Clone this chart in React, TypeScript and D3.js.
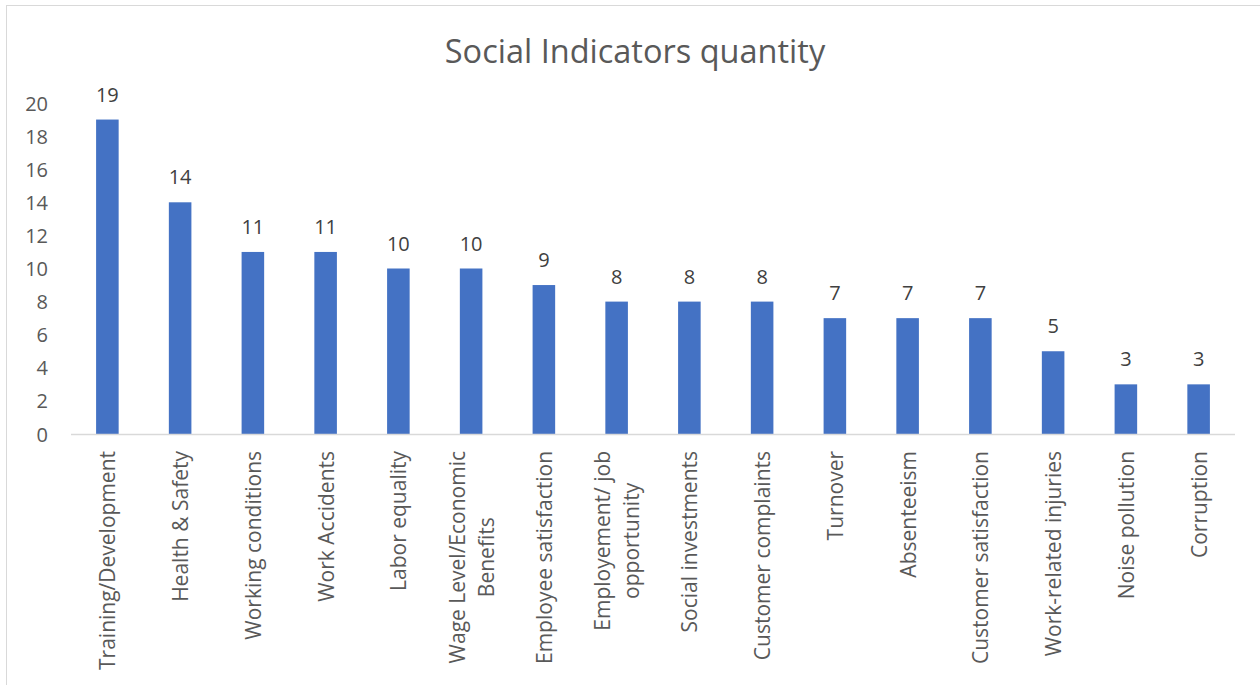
import React from "react";
import * as d3 from "d3";

const categories: string[][] = [
  ["Training/Development"],
  ["Health & Safety"],
  ["Working conditions"],
  ["Work Accidents"],
  ["Labor equality"],
  ["Wage Level/Economic", "Benefits"],
  ["Employee satisfaction"],
  ["Employement/ job", "opportunity"],
  ["Social investments"],
  ["Customer complaints"],
  ["Turnover"],
  ["Absenteeism"],
  ["Customer satisfaction"],
  ["Work-related injuries"],
  ["Noise pollution"],
  ["Corruption"],
];
const values: number[] = [19, 14, 11, 11, 10, 10, 9, 8, 8, 8, 7, 7, 7, 5, 3, 3];
const yTicks: number[] = [0, 2, 4, 6, 8, 10, 12, 14, 16, 18, 20];
const title = "Social Indicators quantity";

const W = 1260;
const H = 685;
const FONT = "'Open Sans', 'Noto Sans', sans-serif";
const LABEL_SIZE = 21;

let ctx: CanvasRenderingContext2D | null = null;
function measure(s: string, size: number): number {
  if (!ctx) ctx = document.createElement("canvas").getContext("2d");
  if (!ctx) return s.length * size * 0.5;
  ctx.font = `${size}px 'Open Sans', 'Noto Sans', sans-serif`;
  return ctx.measureText(s).width;
}

export default function App() {
  const left = 71;
  const right = 1235;
  const top = 103;
  const bottom = 434;
  const keys = categories.map((_, i) => String(i));
  const x = d3.scaleBand<string>().domain(keys).range([left, right]).paddingInner(0.69).paddingOuter(0.345);
  const y = d3.scaleLinear().domain([0, 20]).range([bottom, top]);

  return (
    <svg width={W} height={H} style={{ position: "absolute", left: 0, top: 0, background: "#fff" }} fontFamily={FONT}>
      <rect x={6.5} y={5.5} width={W + 10} height={H + 10} fill="#fff" stroke="#d9d9d9" strokeWidth={1} />
      <text x={635} y={50} textAnchor="middle" dominantBaseline="central" fontSize={32.5} fill="#595959">{title}</text>
      {yTicks.map((t) => (
        <text key={t} x={48} y={y(t)} textAnchor="end" dominantBaseline="central" fontSize={20} fill="#595959">{t}</text>
      ))}
      {values.map((v, i) => (
        <g key={i}>
          <rect x={x(String(i))} y={y(v)} width={x.bandwidth()} height={y(0) - y(v)} fill="#4472C4" />
          <text x={(x(String(i)) as number) + x.bandwidth() / 2} y={y(v) - 18} textAnchor="middle" fontSize={20} fill="#404040">{v}</text>
        </g>
      ))}
      <line x1={left} x2={right} y1={bottom + 0.5} y2={bottom + 0.5} stroke="#d9d9d9" strokeWidth={1.5} />
      {categories.map((lines, i) => {
        const cx = (x(String(i)) as number) + x.bandwidth() / 2;
        const n = lines.length;
        const maxLen = Math.max(...lines.map((l) => measure(l, LABEL_SIZE)));
        return (
          <g key={i} transform={`translate(${cx},451) rotate(-90)`}>
            {lines.map((ln, j) => (
              <text key={j} x={-maxLen / 2} y={(j - (n - 1) / 2) * 29} textAnchor="middle" dominantBaseline="central" fontSize={LABEL_SIZE} fill="#595959">{ln}</text>
            ))}
          </g>
        );
      })}
    </svg>
  );
}
